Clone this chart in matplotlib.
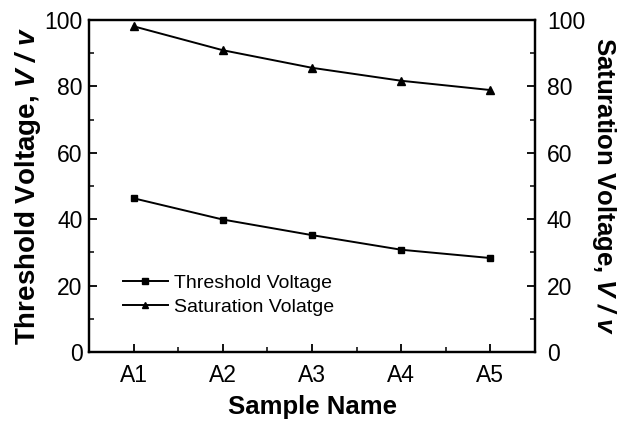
import matplotlib
matplotlib.use("Agg")
import matplotlib.pyplot as plt
from matplotlib.ticker import MultipleLocator, FixedLocator

plt.rcParams['font.family'] = ['Liberation Sans', 'DejaVu Sans']
plt.rcParams['mathtext.fontset'] = 'custom'
plt.rcParams['mathtext.rm'] = 'Liberation Sans'
plt.rcParams['mathtext.bf'] = 'Liberation Sans:bold'
plt.rcParams['mathtext.it'] = 'Liberation Sans:italic'
plt.rcParams['mathtext.bfit'] = 'Liberation Sans:italic:bold'

samples = ["A1", "A2", "A3", "A4", "A5"]
threshold = [46.3, 39.9, 35.2, 30.8, 28.3]
saturation = [98.1, 90.9, 85.6, 81.7, 78.9]
yticks = [0, 20, 40, 60, 80, 100]

fig = plt.figure(figsize=(6.19, 4.22), dpi=100)
ax = fig.add_axes([89/619, 1-352/422, (535-89)/619, (352-20)/422])
ax2 = ax.twinx()

x = list(range(1, len(samples) + 1))
l1, = ax.plot(x, threshold, color='black', lw=1.4, marker='s', ms=4.6, label='Threshold Voltage')
l2, = ax2.plot(x, saturation, color='black', lw=1.4, marker='^', ms=5.5, label='Saturation Volatge')

for a in (ax, ax2):
    a.set_ylim(0, 100)
    a.set_yticks(yticks)
    a.yaxis.set_minor_locator(MultipleLocator(10))
    for s in a.spines.values():
        s.set_linewidth(1.6)
ax.set_xlim(0.5, 5.5)
ax.set_xticks(x)
ax.set_xticklabels(samples)
ax.xaxis.set_minor_locator(FixedLocator([1.5, 2.5, 3.5, 4.5]))

ax.tick_params(axis='both', which='major', direction='in', length=6, width=1.3, labelsize=16.5)
ax.tick_params(axis='both', which='minor', direction='in', length=3.5, width=1.1)
ax.tick_params(axis='y', which='major', pad=4.5)
ax.tick_params(axis='x', which='major', pad=8.5)
ax.tick_params(axis='y', which='both', right=False)
ax.tick_params(axis='x', which='both', top=False)
ax2.tick_params(axis='y', which='major', direction='in', length=6, width=1.3, labelsize=16.5, pad=8.5)
ax2.tick_params(axis='y', which='minor', direction='in', length=3.5, width=1.1)

ax.set_xlabel('Sample Name', fontsize=18.5, fontweight='bold', labelpad=6)
ax.set_ylabel(r'Threshold Voltage, $\mathbfit{V\ /\ v}$', fontsize=20, fontweight='bold', labelpad=1)
ax2.set_ylabel(r'Saturation Voltage, $\mathbfit{V\ /\ v}$', fontsize=18.5, fontweight='bold',
               rotation=270, labelpad=24)

ax.legend(handles=[l1, l2], loc='lower left', bbox_to_anchor=(0.046, 0.067), frameon=False,
          fontsize=14, handlelength=2.3, handletextpad=0.3, labelspacing=0.35, borderpad=0.2,
          markerscale=0.8)

fig.savefig('out.png', dpi=100)
